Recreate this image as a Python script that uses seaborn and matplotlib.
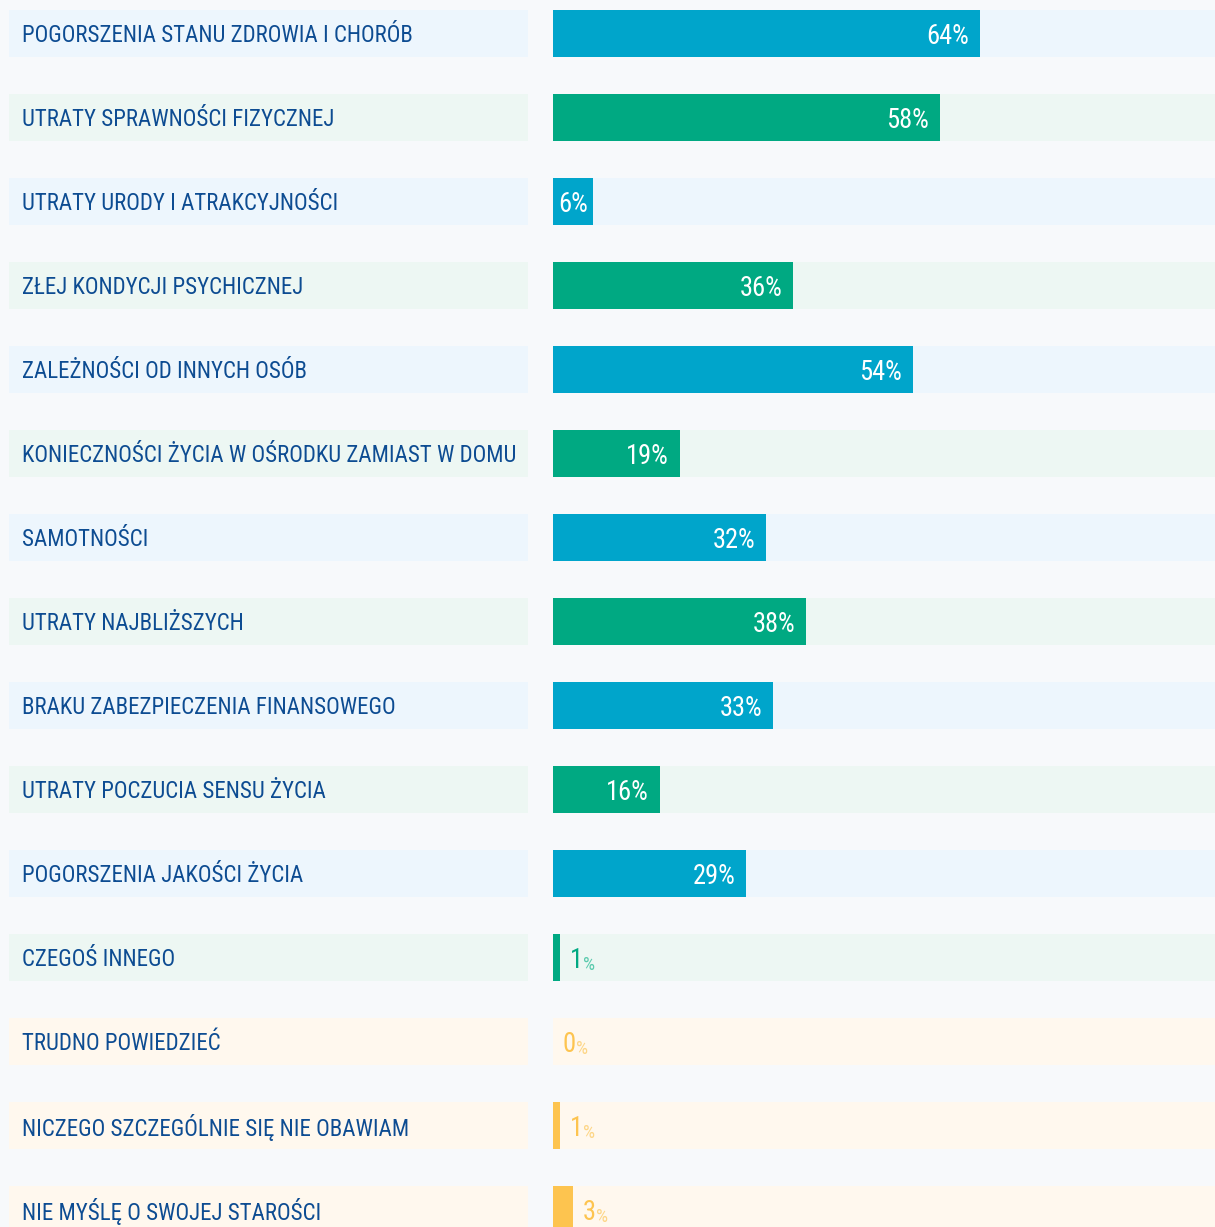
"""
Obawy związane ze starością: horizontal percentage bars with label boxes on the left.
Output: out.png (1215x1227)
"""

import os
import matplotlib
matplotlib.use("Agg")
import pandas as pd
import matplotlib.pyplot as plt
import seaborn as sns
from matplotlib import font_manager

# --- DATA ---
categories = [
    "POGORSZENIA STANU ZDROWIA I CHORÓB",
    "UTRATY SPRAWNOŚCI FIZYCZNEJ",
    "UTRATY URODY I ATRAKCYJNOŚCI",
    "ZŁEJ KONDYCJI PSYCHICZNEJ",
    "ZALEŻNOŚCI OD INNYCH OSÓB",
    "KONIECZNOŚCI ŻYCIA W OŚRODKU ZAMIAST W DOMU",
    "SAMOTNOŚCI",
    "UTRATY NAJBLIŻSZYCH",
    "BRAKU ZABEZPIECZENIA FINANSOWEGO",
    "UTRATY POCZUCIA SENSU ŻYCIA",
    "POGORSZENIA JAKOŚCI ŻYCIA",
    "CZEGOŚ INNEGO",
    "TRUDNO POWIEDZIEĆ",
    "NICZEGO SZCZEGÓLNIE SIĘ NIE OBAWIAM",
    "NIE MYŚLĘ O SWOJEJ STAROŚCI",
]
values = [64, 58, 6, 36, 54, 19, 32, 38, 33, 16, 29, 1, 0, 1, 3]
groups = ["a", "b", "a", "b", "a", "b", "a", "b", "a", "b", "a", "b", "c", "c", "c"]

# --- STYLE ---
BG = "#F7F9FB"
BAR_COLORS = {"a": "#00A5CB", "b": "#00A982", "c": "#FDC44F"}
TRACK_COLORS = {"a": "#EDF6FD", "b": "#EDF7F3", "c": "#FFF8EE"}
PCT_COLORS = {"a": "#5BC3DE", "b": "#5CCBAE", "c": "#FDD687"}
LABEL_COLOR = "#0D4C92"

# pixel geometry
W, H = 1215, 1227
ROW_CENTER0 = 33.0
ROW_STEP = 84.0
ROW_H = 47.0
BAR_X0 = 553
PX_PER_PCT = 6.67
LABEL_REF_PX = 392   # width of first label in the reference
VALUE_REF_PX = 43    # width of "64%" in the reference


def pick_narrow_font():
    """Find an installed condensed / narrow regular font, else None."""
    prefs = ["liberationsansnarrow", "robotocondensed", "opensans_condensed", "opensanscondensed",
             "notosans-condensed", "notosanscondensed", "dejavusanscondensed", "condensed", "narrow"]
    found = []
    for f in font_manager.fontManager.ttflist:
        fn = os.path.basename(f.fname).lower().replace(" ", "")
        if f.style != "normal":
            continue
        if not ("narrow" in fn or "condensed" in fn or "cond" in fn):
            continue
        if any(k in fn for k in ("semi", "extra", "ultra", "bold", "light", "thin", "medium", "black", "italic")):
            continue
        rank = next((i for i, p in enumerate(prefs) if p in fn), len(prefs))
        found.append((rank, f.fname))
    if not found:
        return None
    found.sort()
    return found[0][1]


narrow = pick_narrow_font()
if narrow:
    FP = font_manager.FontProperties(fname=narrow)
else:
    FP = font_manager.FontProperties(family=["Roboto", "DejaVu Sans"])

df = pd.DataFrame({"category": categories, "value": values, "group": groups})
n = len(df)
band = ROW_H / ROW_STEP
ylim = ((H - ROW_CENTER0) / ROW_STEP, -ROW_CENTER0 / ROW_STEP)

sns.set_theme(style="white")

fig = plt.figure(figsize=(W / 100, H / 100), dpi=100, facecolor=BG)
renderer = fig.canvas.get_renderer()


def fitted_size(text, target_px, base=20.0):
    t = fig.text(0, 0, text, fontproperties=FP, fontsize=base)
    w = t.get_window_extent(renderer).width
    t.remove()
    return base * target_px / w


label_fs = min(22.0, fitted_size(categories[0], LABEL_REF_PX))
value_fs = min(22.0, fitted_size("64%", VALUE_REF_PX))

# ---------- left: label boxes ----------
ax_l = fig.add_axes([9 / W, 0, 519 / W, 1])
ax_l.set_facecolor("none")
ax_l.barh(range(n), 1, height=band, color=[TRACK_COLORS[g] for g in groups], linewidth=0)
for i, cat in enumerate(categories):
    ax_l.text(13 / 519, i, cat, va="center_baseline", ha="left", fontsize=label_fs,
              color=LABEL_COLOR, fontproperties=FP)
ax_l.set_xlim(0, 1)
ax_l.set_ylim(*ylim)
ax_l.axis("off")

# ---------- right: bars ----------
ax = fig.add_axes([BAR_X0 / W, 0, 100 * PX_PER_PCT / W, 1])
ax.set_facecolor("none")
ax.barh(range(n), 100, height=band, color=[TRACK_COLORS[g] for g in groups], linewidth=0)
sns.barplot(data=df, x="value", y="category", hue="category",
            palette=[BAR_COLORS[g] for g in groups], saturation=1, legend=False,
            width=band, orient="h", linewidth=0, ax=ax)
ax.set_xlim(0, 100)
ax.set_ylim(*ylim)
ax.axis("off")

pad = 10 / PX_PER_PCT
for i, (v, g) in enumerate(zip(values, groups)):
    if v >= 10:
        ax.text(v - 11 / PX_PER_PCT, i, f"{v}%", va="center_baseline", ha="right",
                fontproperties=FP, fontsize=value_fs, color="white")
    elif v >= 5:
        ax.text(v / 2, i, f"{v}%", va="center_baseline", ha="center",
                fontproperties=FP, fontsize=value_fs, color="white")
    else:
        num = ax.text(v + pad, i, f"{v}", va="center_baseline", ha="left",
                      fontproperties=FP, fontsize=value_fs, color=BAR_COLORS[g])
        ax.annotate("%", xy=(1, 0), xycoords=num, va="bottom", ha="left",
                    fontproperties=FP, fontsize=value_fs * 0.72, color=PCT_COLORS[g])

fig.savefig("out.png", dpi=100, facecolor=BG)
